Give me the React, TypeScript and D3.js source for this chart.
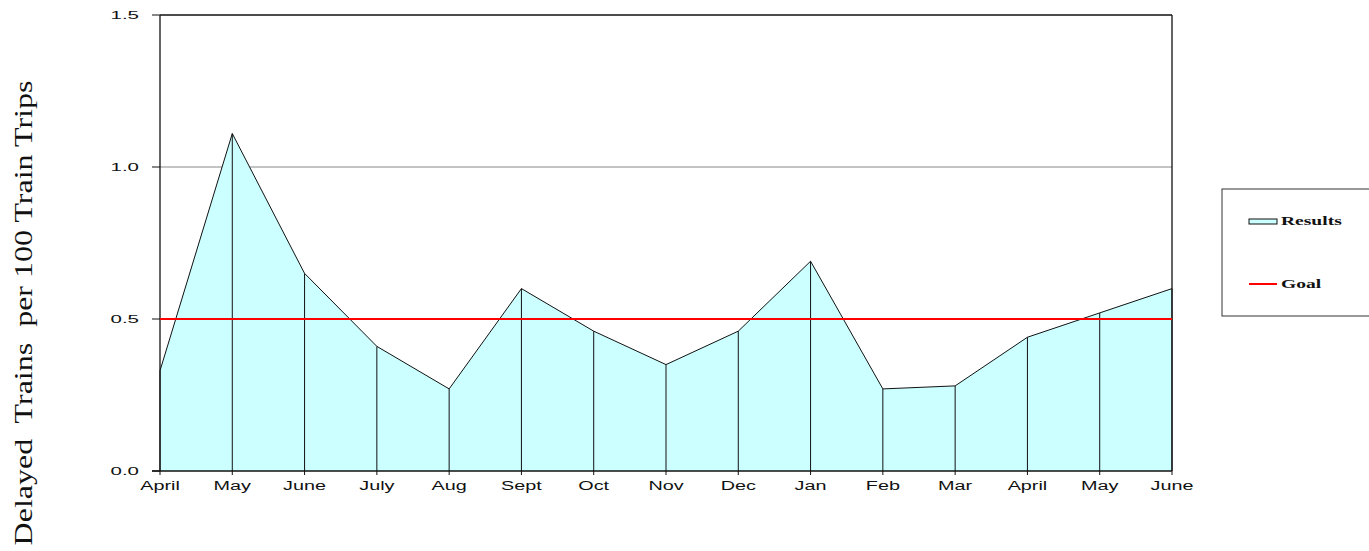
import * as React from "react";
import { scaleLinear, scalePoint, area, line } from "d3";

const months = [
  "April", "May", "June", "July", "Aug", "Sept", "Oct", "Nov",
  "Dec", "Jan", "Feb", "Mar", "April", "May", "June",
];
const results = [
  0.33, 1.11, 0.65, 0.41, 0.27, 0.6, 0.46, 0.35, 0.46, 0.69, 0.27, 0.28, 0.44, 0.52, 0.6,
];
const goal = 0.5;
const yTicks = [0, 0.5, 1.0, 1.5];
const yTitle = "Delayed  Trains  per 100 Train Trips";

const App = () => {
  const left = 160;
  const right = 1172;
  const top = 15;
  const bottom = 471;

  const keys = months.map((m, i) => `${i}`);
  const xScale = scalePoint().domain(keys).range([left, right]);
  const yScale = scaleLinear().domain([0, 1.5]).range([bottom, top]);

  const pts = results.map((d, i) => [xScale(`${i}`) as number, d] as [number, number]);
  const areaPath = area<[number, number]>()
    .x((d) => d[0])
    .y0(yScale(0))
    .y1((d) => yScale(d[1]))(pts) || "";
  const linePath = line<[number, number]>()
    .x((d) => d[0])
    .y((d) => yScale(d[1]))(pts) || "";

  return (
    <svg
      width={1369}
      height={551}
      style={{ position: "absolute", left: 0, top: 0, background: "white" }}
    >
      {/* gridline at 1.0 */}
      <line x1={left} x2={right} y1={yScale(1)} y2={yScale(1)} stroke="#888" strokeWidth={1} />

      <path d={areaPath} fill="#CCFFFF" stroke="none" />
      {pts.map((p, i) => (
        <line
          key={i}
          x1={p[0]}
          x2={p[0]}
          y1={yScale(p[1])}
          y2={bottom + 4}
          stroke="#111"
          strokeWidth={1}
        />
      ))}
      <path d={linePath} fill="none" stroke="#111" strokeWidth={1} />

      {/* frame */}
      <line x1={left} x2={right} y1={top} y2={top} stroke="#111" strokeWidth={1.3} />
      <line x1={right} x2={right} y1={top} y2={bottom} stroke="#111" strokeWidth={1.3} />
      <line x1={left} x2={left} y1={top} y2={bottom} stroke="#111" strokeWidth={1.3} />
      <line x1={left - 8} x2={right} y1={bottom} y2={bottom} stroke="#111" strokeWidth={1.3} />

      {/* goal */}
      <line x1={left} x2={right} y1={yScale(goal)} y2={yScale(goal)} stroke="#FF0000" strokeWidth={2} />

      {/* y axis */}
      {yTicks.map((t) => (
        <g key={t} transform={`translate(0,${yScale(t)})`}>
          <line x1={left - 8} x2={left} y1={0} y2={0} stroke="#111" strokeWidth={1} />
          <text
            transform={`translate(139,4) scale(1.95,1)`}
            textAnchor="end"
            fontFamily="Liberation Sans, Arial, sans-serif"
            fontSize={10.5}
            fill="#111"
          >
            {t.toFixed(1)}
          </text>
        </g>
      ))}

      {/* x axis labels */}
      {months.map((m, i) => (
        <text
          key={i}
          transform={`translate(${xScale(`${i}`)},490) scale(1.65,1)`}
          textAnchor="middle"
          fontFamily="Liberation Sans, Arial, sans-serif"
          fontSize={12}
          fill="#111"
        >
          {m}
        </text>
      ))}

      {/* y title */}
      <text
        transform={`translate(32,313) rotate(-90) scale(1.28,1)`}
        textAnchor="middle"
        fontFamily="Liberation Serif, Times New Roman, serif"
        fontSize={25}
        fill="#111"
        style={{ whiteSpace: "pre" }}
      >
        {yTitle}
      </text>

      {/* legend */}
      <rect x={1222} y={189} width={170} height={127} fill="white" stroke="#333" strokeWidth={1} />
      <rect x={1249} y={219} width={28} height={5} fill="#CCFFFF" stroke="#111" strokeWidth={1} />
      <text
        transform="translate(1281,225) scale(1.7,1)"
        fontFamily="Liberation Serif, Times New Roman, serif"
        fontWeight="bold"
        fontSize={11.5}
        fill="#111"
      >
        Results
      </text>
      <line x1={1249} x2={1277} y1={284} y2={284} stroke="#FF0000" strokeWidth={2} />
      <text
        transform="translate(1281,288) scale(1.7,1)"
        fontFamily="Liberation Serif, Times New Roman, serif"
        fontWeight="bold"
        fontSize={11.5}
        fill="#111"
      >
        Goal
      </text>
    </svg>
  );
};

export default App;
